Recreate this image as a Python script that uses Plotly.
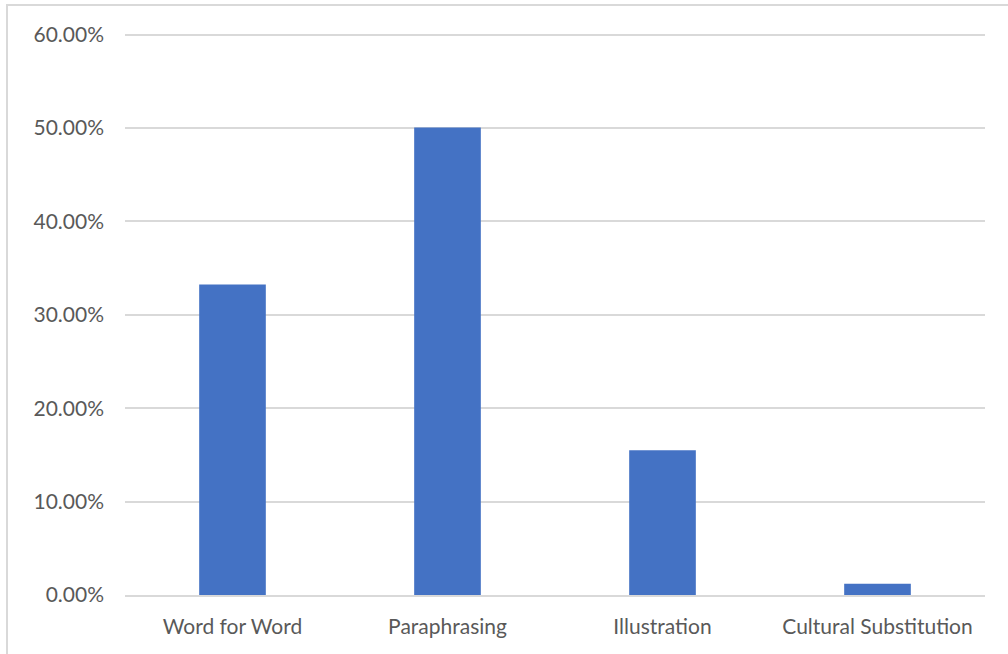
import plotly.graph_objects as go

categories = ["Word for Word", "Paraphrasing", "Illustration", "Cultural Substitution"]
values = [0.3326, 0.5005, 0.155, 0.012]
tick_vals = [0, 0.1, 0.2, 0.3, 0.4, 0.5, 0.6]

fig = go.Figure(go.Bar(x=categories, y=values, marker=dict(color="#4472C4", line=dict(width=0)),
                       hoverinfo="x+y"))

L, R, T, B = 125, 23, 33, 59
W, H = 1008, 654
pw, ph = W - L - R, H - T - B

fig.update_layout(
    width=W, height=H,
    margin=dict(l=L, r=R, t=T, b=B),
    paper_bgcolor="white", plot_bgcolor="white",
    bargap=0.69,
    showlegend=False,
    font=dict(family="Lato, 'Open Sans', sans-serif", size=21, color="#595959"),
    xaxis=dict(showgrid=False, showline=True, linecolor="#d9d9d9", linewidth=1.5,
               ticks="", ticklabelstandoff=12, tickfont=dict(size=21, color="#595959")),
    yaxis=dict(range=[0, 0.6018], tickvals=tick_vals, tickformat=".2%",
               showgrid=True, gridcolor="#d9d9d9", gridwidth=1.5,
               zeroline=False, showline=False, ticks="",
               ticklabelstandoff=20,
               tickfont=dict(size=21, color="#595959")),
    shapes=[dict(type="rect", xref="paper", yref="paper",
                 x0=(7 - L) / pw, x1=(W + 10 - L) / pw,
                 y0=-(B + 10) / ph, y1=1 + (T - 5) / ph,
                 line=dict(color="#d9d9d9", width=2), fillcolor="rgba(0,0,0,0)", layer="below")],
)

fig.write_html("out.html")
